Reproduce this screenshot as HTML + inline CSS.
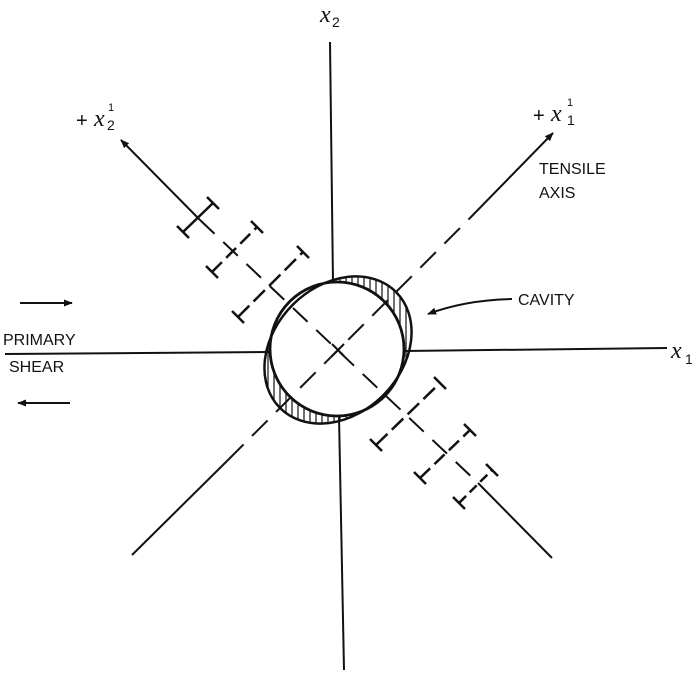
<!DOCTYPE html>
<html><head><style>
html,body{margin:0;padding:0;background:#fff;}
svg{display:block;}
text{fill:#111;}
.s{font-family:"Liberation Sans",sans-serif;}
.m{font-family:"Liberation Serif",serif;font-style:italic;}
</style></head><body>
<svg width="700" height="675" viewBox="0 0 700 675" xmlns="http://www.w3.org/2000/svg">
<defs>
<marker id="ah" viewBox="0 0 10 10" refX="9" refY="5" markerWidth="9" markerHeight="9" orient="auto-start-reverse" markerUnits="userSpaceOnUse">
<path d="M0,1 L10,5 L0,9 Z" fill="#111"/></marker>
<clipPath id="outer"><ellipse cx="338" cy="350" rx="82" ry="64" transform="rotate(-45 338 350)"/></clipPath>
<mask id="ring"><rect width="700" height="675" fill="#fff"/><circle cx="337" cy="349" r="67" fill="#000"/></mask>
</defs>
<g stroke="#111" fill="none" stroke-width="2">
<line x1="330" y1="42" x2="333" y2="283"/>
<line x1="339" y1="416" x2="344" y2="670"/>
<line x1="5" y1="354" x2="270" y2="352"/>
<line x1="404" y1="351" x2="667" y2="348"/>
<line x1="132" y1="555" x2="228" y2="460"/>
<line x1="228" y1="460" x2="470" y2="218" stroke-dasharray="22,12"/>
<line x1="470" y1="218" x2="553" y2="133" marker-end="url(#ah)"/>
<line x1="200" y1="220" x2="121" y2="140" marker-end="url(#ah)"/>
<line x1="200" y1="220" x2="478" y2="483" stroke-dasharray="20,12"/>
<line x1="478" y1="483" x2="552" y2="558"/>
<line x1="332" y1="344" x2="344" y2="356"/><line x1="344" y1="344" x2="332" y2="356"/>
<g clip-path="url(#outer)" mask="url(#ring)" stroke-width="1.2">
<path d="M250 270 V440 M256 270 V440 M262 270 V440 M268 270 V440 M274 270 V440 M280 270 V440 M286 270 V440 M292 270 V440 M298 270 V440 M304 270 V440 M310 270 V440 M316 270 V440 M322 270 V440 M328 270 V440 M334 270 V440 M340 270 V440 M346 270 V440 M352 270 V440 M358 270 V440 M364 270 V440 M370 270 V440 M376 270 V440 M382 270 V440 M388 270 V440 M394 270 V440 M400 270 V440 M406 270 V440 M412 270 V440 M418 270 V440 M424 270 V440"/>
</g>
<ellipse cx="338" cy="350" rx="82" ry="64" transform="rotate(-45 338 350)" stroke-width="2.5"/>
<circle cx="337" cy="349" r="67" stroke-width="2.8" fill="none"/>
<path d="M512 299 Q465 300 428 314" marker-end="url(#ah)"/>
<line x1="20" y1="303" x2="72" y2="303" marker-end="url(#ah)"/>
<line x1="70" y1="403" x2="18" y2="403" marker-end="url(#ah)"/>
<g stroke-width="2.5">
<line x1="183" y1="232" x2="213" y2="203"/>
<line x1="212" y1="272" x2="257" y2="227" stroke-dasharray="14,6"/>
<line x1="238" y1="317" x2="303" y2="252" stroke-dasharray="16,6"/>
<line x1="376" y1="445" x2="440" y2="383" stroke-dasharray="16,6"/>
<line x1="420" y1="478" x2="470" y2="430" stroke-dasharray="14,6"/>
<line x1="459" y1="503" x2="492" y2="470" stroke-dasharray="10,5"/>
<path d="M177 226 L189 238 M207 197 L219 209 M206 266 L218 278 M251 221 L263 233 M232 311 L244 323 M297 246 L309 258 M370 439 L382 451 M434 377 L446 389 M414 472 L426 484 M464 424 L476 436 M453 497 L465 509 M486 464 L498 476"/>
</g>
</g>
<text x="320" y="22" font-size="24" class="m">x</text><text x="332" y="27" font-size="14" class="s">2</text>
<text x="671" y="358" font-size="24" class="m">x</text><text x="685" y="364" font-size="14" class="s">1</text>
<text x="76" y="127" font-size="20" class="s">+</text><text x="94" y="126" font-size="24" class="m">x</text><text x="108" y="111" font-size="11" class="s">1</text><text x="107" y="130" font-size="14" class="s">2</text>
<text x="533" y="122" font-size="20" class="s">+</text><text x="551" y="121" font-size="24" class="m">x</text><text x="567" y="106" font-size="11" class="s">1</text><text x="567" y="125" font-size="14" class="s">1</text>
<text x="539" y="174" font-size="16" class="s">TENSILE</text>
<text x="539" y="198" font-size="16" class="s">AXIS</text>
<text x="518" y="305" font-size="16" class="s">CAVITY</text>
<text x="3" y="345" font-size="16" class="s">PRIMARY</text>
<text x="9" y="372" font-size="16" class="s">SHEAR</text>
</svg>
</body></html>
